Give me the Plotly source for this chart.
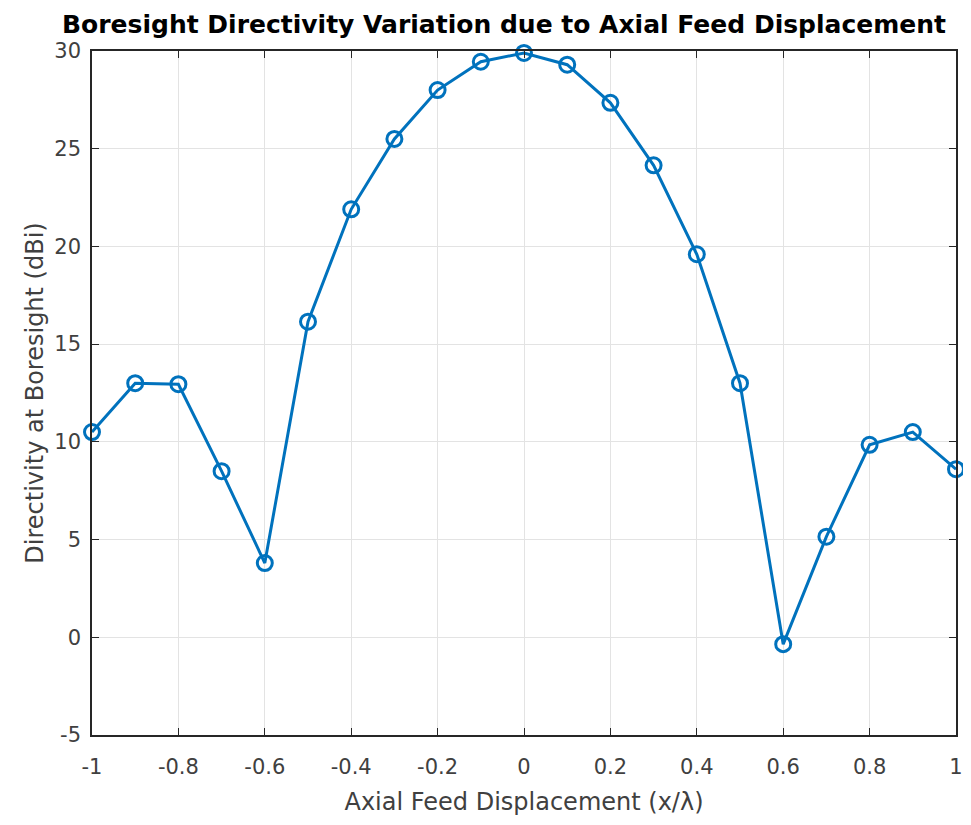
import plotly.graph_objects as go

# Axial feed displacement (x / lambda) and boresight directivity (dBi)
displacement = [-1.0, -0.9, -0.8, -0.7, -0.6, -0.5, -0.4, -0.3, -0.2, -0.1, 0.0,
                0.1, 0.2, 0.3, 0.4, 0.5, 0.6, 0.7, 0.8, 0.9, 1.0]
directivity = [10.5, 13.0, 12.95, 8.5, 3.8, 16.15, 21.9, 25.5, 28.0, 29.45, 29.9,
               29.3, 27.35, 24.15, 19.6, 13.0, -0.35, 5.15, 9.85, 10.5, 8.6]

x_ticks = [-1, -0.8, -0.6, -0.4, -0.2, 0, 0.2, 0.4, 0.6, 0.8, 1]
x_tick_text = ['-1', '-0.8', '-0.6', '-0.4', '-0.2', '0', '0.2', '0.4', '0.6', '0.8', '1']
y_ticks = [-5, 0, 5, 10, 15, 20, 25, 30]
y_tick_text = ['-5', '0', '5', '10', '15', '20', '25', '30']

# page body keeps an 8px margin, so the figure is sized to fit inside the window
W, H = 955, 809
L, R, T, B = 84, 7, 43, 82
FONT = 'DejaVu Sans, Arial, sans-serif'

fig = go.Figure()
fig.add_trace(go.Scatter(
    x=displacement, y=directivity,
    mode='lines+markers',
    line=dict(color='#0072BD', width=3),
    marker=dict(symbol='circle-open', size=15, color='#0072BD', line=dict(width=3)),
    cliponaxis=False,
    showlegend=False,
))

axis_common = dict(
    showline=True, linecolor='#262626', linewidth=1.5, mirror='ticks',
    ticks='inside', ticklen=7, tickcolor='#262626', tickwidth=1.2,
    showgrid=True, gridcolor='#e3e3e3', gridwidth=1,
    zeroline=False, automargin=False,
    tickfont=dict(family=FONT, size=21, color='#404040'),
)

fig.update_xaxes(
    range=[-1, 1], tickvals=x_ticks, ticktext=x_tick_text, ticklabelstandoff=12,
    title=dict(text='Axial Feed Displacement (x/\u03bb)', standoff=15,
               font=dict(family=FONT, size=24, color='#404040')),
    **axis_common,
)
fig.update_yaxes(
    range=[-5, 30], tickvals=y_ticks, ticktext=y_tick_text, ticklabelstandoff=5,
    title=dict(text='Directivity at Boresight (dBi)', standoff=4,
               font=dict(family=FONT, size=24, color='#404040')),
    **axis_common,
)

fig.update_layout(
    width=W, height=H,
    margin=dict(l=L, r=R, t=T, b=B),
    paper_bgcolor='white', plot_bgcolor='white',
    title=dict(
        text='<b>Boresight Directivity Variation due to Axial Feed Displacement</b>',
        font=dict(family=FONT, size=25, color='black'),
        x=(504 - 8) / W, xanchor='center', y=1 - 16 / H, yanchor='middle',
    ),
)

fig.write_html('out.html', config={'displayModeBar': False})
